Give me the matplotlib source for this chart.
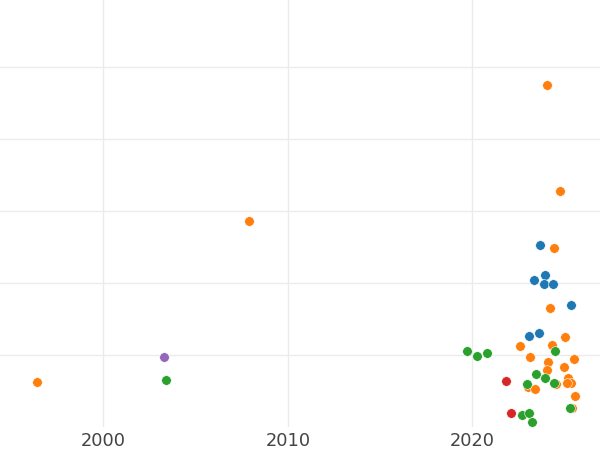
import matplotlib
matplotlib.use("Agg")
import matplotlib.pyplot as plt

# data (y in grid units, y labels are not shown)
blue_year = [2023.69, 2023.92, 2023.36, 2023.87, 2024.37, 2025.37, 2023.09, 2023.63]
blue_val = [2.519, 2.111, 2.038, 1.986, 1.978, 1.694, 1.264, 1.306]

orange_year = [1996.39, 2007.91, 2024.07, 2024.77, 2024.44, 2024.23, 2025.01, 2022.60,
               2024.30, 2023.14, 2025.50, 2024.12, 2024.03, 2024.97, 2025.20, 2025.35,
               2025.15, 2024.52, 2023.02, 2023.40, 2025.55, 2025.42]
orange_val = [0.617, 2.853, 4.742, 3.278, 2.478, 1.644, 1.246, 1.125,
              1.135, 0.972, 0.936, 0.899, 0.792, 0.829, 0.681, 0.603,
              0.603, 0.593, 0.551, 0.528, 0.426, 0.256]

green_year = [2003.40, 2019.73, 2020.24, 2020.81, 2024.48, 2023.45, 2023.92, 2022.95,
              2024.43, 2025.30, 2022.68, 2023.06, 2023.24]
green_val = [0.644, 1.047, 0.986, 1.024, 1.047, 0.732, 0.676, 0.589,
             0.603, 0.264, 0.163, 0.194, 0.061]

red_year = [2021.83, 2022.10]
red_val = [0.639, 0.194]

purple_year = [2003.31]
purple_val = [0.972]

x_ticks = [2000, 2010, 2020]
y_ticks = [1, 2, 3, 4, 5]

series = [
    (blue_year, blue_val, "#1f77b4"),
    (orange_year, orange_val, "#ff7f0e"),
    (green_year, green_val, "#2ca02c"),
    (red_year, red_val, "#d62728"),
    (purple_year, purple_val, "#9467bd"),
]

fig = plt.figure(figsize=(6, 4.5), dpi=100)
ax = fig.add_axes([0, 0.0518, 1, 0.9482])

for xs, ys, c in series:
    ax.scatter(xs, ys, s=48, color=c, edgecolor="white", linewidth=0.4, zorder=3)

ax.set_xlim(1994.40, 2026.92)
ax.set_ylim(0, 5.926)
ax.set_xticks(x_ticks)
ax.set_yticks(y_ticks)
ax.set_yticklabels([])
ax.grid(True, color="#ebebeb", linewidth=1.0, zorder=0)
ax.set_axisbelow(True)
for s in ax.spines.values():
    s.set_visible(False)
ax.tick_params(axis="both", length=0)
ax.tick_params(axis="x", labelsize=12.8, labelcolor="#444444", pad=4)

fig.savefig("out.png", dpi=100)
